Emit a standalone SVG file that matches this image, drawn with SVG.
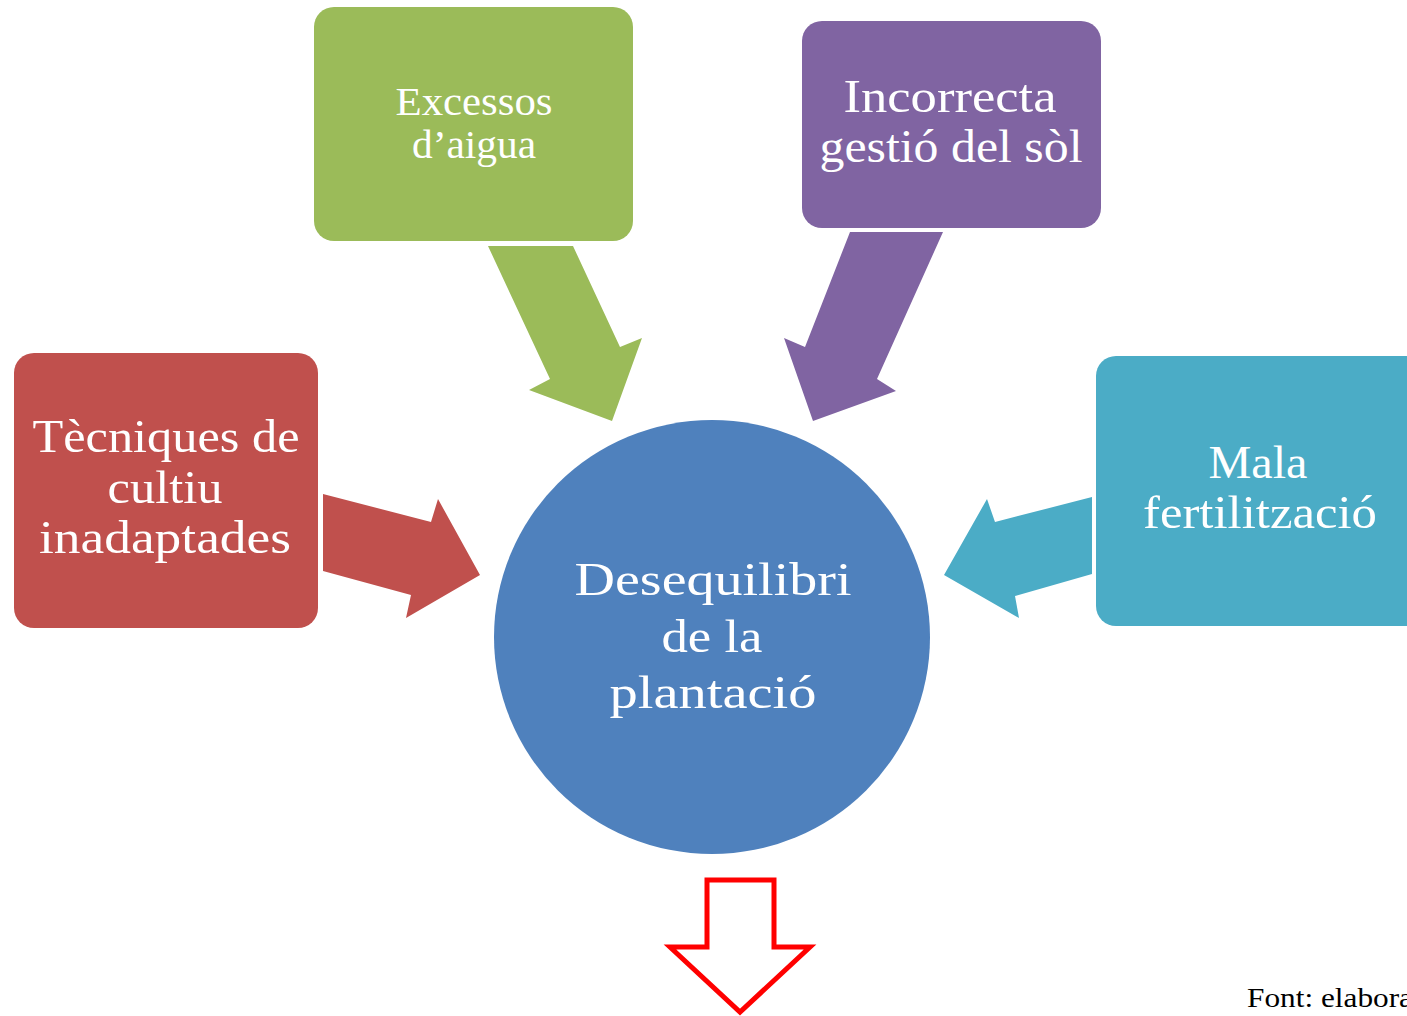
<svg xmlns="http://www.w3.org/2000/svg" width="1407" height="1016" viewBox="0 0 1407 1016">
<style>
.t{font-family:"Liberation Serif","DejaVu Serif",serif;fill:#ffffff;text-anchor:middle}
.big{font-size:46px}
.mid{font-size:40px}
.foot{font-family:"Liberation Serif","DejaVu Serif",serif;font-size:28px;fill:#000000}
</style>
<rect width="1407" height="1016" fill="#ffffff"/>
<g id="connectors">
<polygon id="arrow-red" points="323,494 431,522 438,499 480,575 406,618 411,595 323,571" fill="#C0504D"/>
<polygon id="arrow-green" points="488,246 573,246 620,347 642,338 612,421 529,390 550,379" fill="#9BBB59"/>
<polygon id="arrow-purple" points="850,232 943,232 877,379 896,391 813,421 784,338 805,347" fill="#8064A2"/>
<polygon id="arrow-teal" points="1092,497 995,522 987,499 944,575 1019,618 1015,596 1092,574" fill="#4BACC6"/>
<polygon id="arrow-out" points="707,880 774,880 774,947 810,947 740,1012 670,947 707,947" fill="#ffffff" stroke="#FF0000" stroke-width="5"/>
</g>
<g id="node-tecniques">
<rect x="14" y="353" width="304" height="275" rx="20" fill="#C0504D"/>
<text class="t big" x="166" y="452" textLength="267" lengthAdjust="spacingAndGlyphs">Tècniques de</text>
<text class="t big" x="165" y="503" textLength="115" lengthAdjust="spacingAndGlyphs">cultiu</text>
<text class="t big" x="165" y="553" textLength="252" lengthAdjust="spacingAndGlyphs">inadaptades</text>
</g>
<g id="node-excessos">
<rect x="314" y="7" width="319" height="234" rx="20" fill="#9BBB59"/>
<text class="t mid" x="474" y="115" textLength="157" lengthAdjust="spacingAndGlyphs">Excessos</text>
<text class="t mid" x="474" y="158" textLength="124" lengthAdjust="spacingAndGlyphs">d’aigua</text>
</g>
<g id="node-incorrecta">
<rect x="802" y="21" width="299" height="207" rx="20" fill="#8064A2"/>
<text class="t big" x="950" y="112" textLength="213" lengthAdjust="spacingAndGlyphs">Incorrecta</text>
<text class="t big" x="951" y="162" textLength="263" lengthAdjust="spacingAndGlyphs">gestió del sòl</text>
</g>
<g id="node-mala">
<rect x="1096" y="356" width="340" height="270" rx="20" fill="#4BACC6"/>
<text class="t big" x="1258" y="478" textLength="99" lengthAdjust="spacingAndGlyphs">Mala</text>
<text class="t big" x="1260" y="528" textLength="234" lengthAdjust="spacingAndGlyphs">fertilització</text>
</g>
<g id="node-desequilibri">
<ellipse cx="712" cy="637" rx="218" ry="217" fill="#4F81BD"/>
<text class="t big" x="713" y="595" textLength="277" lengthAdjust="spacingAndGlyphs">Desequilibri</text>
<text class="t big" x="712" y="652" textLength="101" lengthAdjust="spacingAndGlyphs">de la</text>
<text class="t big" x="713" y="708" textLength="207" lengthAdjust="spacingAndGlyphs">plantació</text>
</g>
<text class="foot" x="1247" y="1007" textLength="166" lengthAdjust="spacingAndGlyphs">Font: elabora</text>
</svg>
